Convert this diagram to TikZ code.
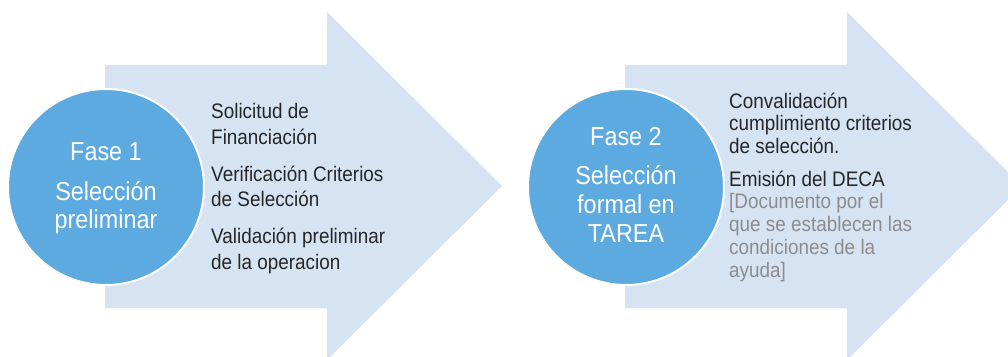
\documentclass[tikz,border=0pt]{standalone}
\usepackage{fontspec}
\setmainfont{Liberation Sans}[FakeStretch=0.9]
\definecolor{arrowfill}{RGB}{214,227,243}
\definecolor{circfill}{RGB}{92,170,224}
\definecolor{darktext}{RGB}{38,38,38}
\definecolor{graytext}{RGB}{140,140,140}
\tikzset{
  bigarrow/.style={fill=arrowfill, draw=none},
  phase/.style={circle, fill=circfill, draw=white, line width=2pt, minimum size=196pt, inner sep=0pt},
  phasetext/.style={text=white, align=center, anchor=base, inner sep=0pt, font=\fontsize{26}{28}\selectfont},
  itemsA/.style={text=darktext, align=left, anchor=base west, inner sep=0pt, font=\fontsize{21}{25.5}\selectfont},
  itemsB/.style={text=darktext, align=left, anchor=base west, inner sep=0pt, font=\fontsize{21}{22.7}\selectfont}
}
\begin{document}
\begin{tikzpicture}[x=1pt,y=1pt]
\useasboundingbox (0,0) rectangle (1008,356);
\begin{scope}
\clip (0,0) rectangle (1008,356);
% arrow 1
\path[bigarrow] (105,291) -- (327,291) -- (327,344) -- (502,170) -- (327,-4) -- (327,48) -- (105,48) -- cycle;
% arrow 2
\path[bigarrow] (625,291) -- (847,291) -- (847,344) -- (1022,170) -- (847,-4) -- (847,48) -- (625,48) -- cycle;
\end{scope}
% circles
\node[phase] (c1) at (106,169) {};
\node[phase] (c2) at (626,169) {};
% circle texts (anchored at last baseline)
\node[phasetext] (t1) at (106,127) {Fase 1\\[12pt]Selección\\preliminar};
\node[phasetext, font=\fontsize{26}{29}\selectfont] (t2) at (626,113) {Fase 2\\[10pt]Selección\\formal en\\TAREA};
% item texts (anchored at last baseline)
\node[itemsA] (i1) at (211,87) {Solicitud de\\Financiación\\[11.5pt]Verificación Criterios\\de Selección\\[11pt]Validación preliminar\\de la operacion};
\node[itemsB] (i2) at (729,79) {Convalidación\\cumplimiento criterios\\de selección.\\[10pt]Emisión del DECA\\\textcolor{graytext}{[Documento por el}\\\textcolor{graytext}{que se establecen las}\\\textcolor{graytext}{condiciones de la}\\\textcolor{graytext}{ayuda]}};
\end{tikzpicture}
\end{document}
